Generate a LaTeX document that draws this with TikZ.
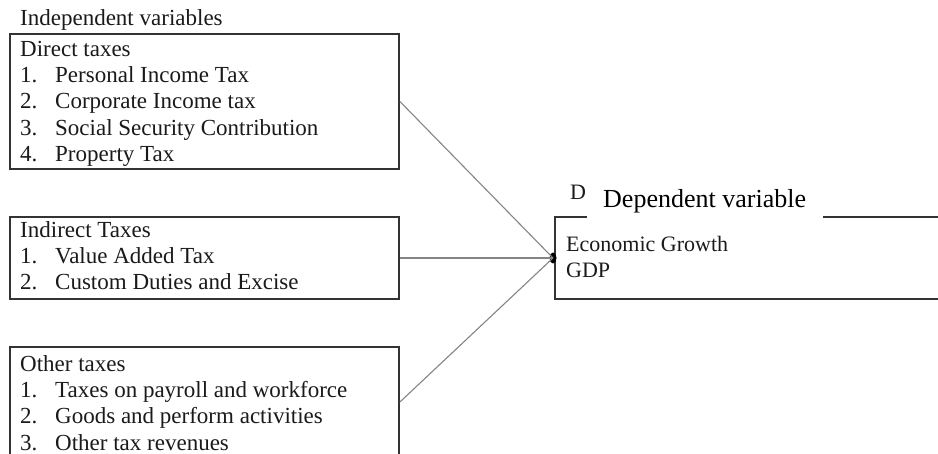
\documentclass[tikz,border=0pt]{standalone}
\usepackage{fontspec}
\setmainfont{Liberation Serif}
\usetikzlibrary{shapes.geometric}
\definecolor{boxc}{HTML}{333333}
\definecolor{linkc}{HTML}{858585}
\definecolor{txtc}{HTML}{1A1A1A}
\tikzset{
  box/.style={draw=boxc, line width=1.8pt, inner sep=0pt},
  txt/.style={anchor=base west, inner sep=0pt, font=\fontsize{23}{26}\selectfont, text=txtc},
  txtr/.style={anchor=base west, inner sep=0pt, font=\fontsize{22}{26}\selectfont, text=txtc},
  link/.style={draw=linkc, line width=1.1pt},
}
\begin{document}
\begin{tikzpicture}[x=1pt,y=1pt]
\useasboundingbox (0,0) rectangle (938,-454);
\clip (0,0) rectangle (938,-454);
\fill[white] (0,0) rectangle (938,-454);

% title
\node[txt] (title) at (20,-26) {Independent variables};

% boxes
\node[box, minimum width=389, minimum height=135] (b1) at (204.5,-101.5) {};
\node[box, minimum width=389, minimum height=82] (b2) at (204.5,-258) {};
\node[box, minimum width=389, minimum height=110] (b3) at (204.5,-402) {};
\node[box, minimum width=395, minimum height=82] (b4) at (752.5,-258) {};

% box 1 text
\node[txt] (b1h) at (20,-57) {Direct taxes};
\node[txt] (b1n1) at (20,-83) {1.};  \node[txt] (b1t1) at (55,-83) {Personal Income Tax};
\node[txt] (b1n2) at (20,-109) {2.}; \node[txt] (b1t2) at (55,-109) {Corporate Income tax};
\node[txt] (b1n3) at (20,-136) {3.}; \node[txt] (b1t3) at (55,-136) {Social Security Contribution};
\node[txt] (b1n4) at (20,-162) {4.}; \node[txt] (b1t4) at (55,-162) {Property Tax};

% box 2 text
\node[txt] (b2h) at (20,-238) {Indirect Taxes};
\node[txt] (b2n1) at (20,-264) {1.}; \node[txt] (b2t1) at (55,-264) {Value Added Tax};
\node[txt] (b2n2) at (20,-290) {2.}; \node[txt] (b2t2) at (55,-290) {Custom Duties and Excise};

% box 3 text
\node[txt] (b3h) at (20,-372) {Other taxes};
\node[txt] (b3n1) at (20,-398) {1.}; \node[txt] (b3t1) at (55,-398) {Taxes on payroll and workforce};
\node[txt] (b3n2) at (20,-424) {2.}; \node[txt] (b3t2) at (55,-424) {Goods and perform activities};
\node[txt] (b3n3) at (20,-450) {3.}; \node[txt] (b3t3) at (55,-450) {Other tax revenues};

% dependent box text
\node[txtr] (b4t1) at (566,-252) {Economic Growth};
\node[txtr] (b4t2) at (566,-278) {GDP};

% label over top edge of dependent box
\node[fill=white, inner sep=0pt, minimum width=236, minimum height=49, anchor=north west] (lblbg) at (587,-170) {};
\node[anchor=base west, inner sep=0pt, font=\fontsize{26}{30}\selectfont, text=black] (lbl) at (603,-208) {Dependent variable};
\node[txtr] (lblD) at (570,-200) {D};

% hub and connectors
\node[fill=black, ellipse, minimum width=7, minimum height=11, inner sep=0pt] (hub) at (553,-258) {};
\draw[link] (b1.east) -- (hub.center);
\draw[link] (b2.east) -- (hub.center);
\draw[link] (b3.east) -- (hub.center);
\end{tikzpicture}
\end{document}
